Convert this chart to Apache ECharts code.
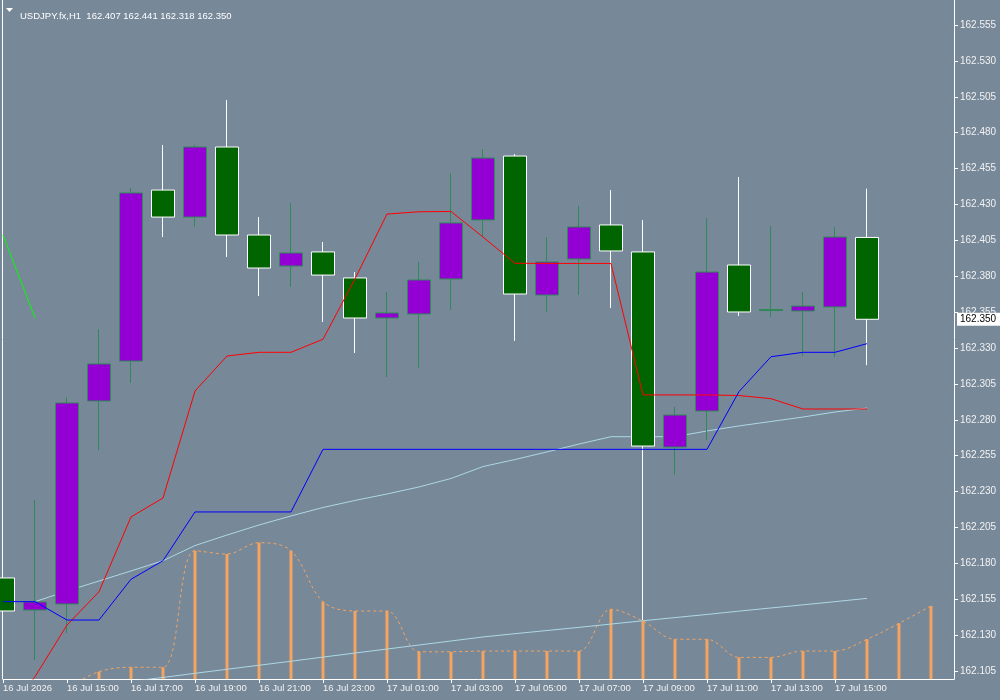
<!DOCTYPE html>
<html lang="en">
<head>
    <meta charset="utf-8" />
    <title>USDJPY.fx,H1</title>
    <script src="https://cdn.jsdelivr.net/npm/echarts@6/dist/echarts.min.js"></script>
    <style>
        html, body { margin: 0; padding: 0; background: #778899; }
        #main { width: 1000px; height: 700px; }
    </style>
</head>
<body>
<div id="main"></div>
<script>
    // H1 bars, index 0 = 16 Jul 13:00
    var opens  = [162.1698, 162.1475, 162.1517, 162.2931, 162.3209, 162.4400, 162.4212, 162.4700, 162.4087, 162.3871,
                  162.3969, 162.3788, 162.3509, 162.3537, 162.3781, 162.4192, 162.4637, 162.3669, 162.3920, 162.4157,
                  162.3969, 162.2610, 162.2861, 162.3878, 162.3561, 162.3558, 162.3586, 162.407];
    var closes = [162.1468, 162.1531, 162.2917, 162.3189, 162.4380, 162.4212, 162.4700, 162.4087, 162.3857, 162.3962,
                  162.3808, 162.3509, 162.3544, 162.3774, 162.4171, 162.4623, 162.3676, 162.3899, 162.4143, 162.3976,
                  162.2617, 162.2833, 162.3829, 162.3551, 162.3568, 162.3592, 162.4073, 162.350];
    var lows   = [162.1245, 162.1127, 162.1315, 162.2589, 162.3056, 162.4073, 162.4143, 162.3934, 162.3662, 162.3725,
                  162.3481, 162.3265, 162.3098, 162.3161, 162.3565, 162.4073, 162.3349, 162.3551, 162.3669, 162.3579,
                  162.1405, 162.2415, 162.2659, 162.3523, 162.3516, 162.3243, 162.3236, 162.318];
    var highs  = [162.1963, 162.2241, 162.2959, 162.3432, 162.4414, 162.4714, 162.4714, 162.5027, 162.4212, 162.4310,
                  162.4038, 162.3829, 162.3690, 162.3899, 162.4519, 162.4686, 162.4651, 162.4073, 162.4289, 162.4400,
                  162.4192, 162.2889, 162.4206, 162.4491, 162.4150, 162.3690, 162.4143, 162.441];

    // indicator lines (from index 0)
    var redLine  = [162.0709, 162.1010, 162.1370, 162.1602, 162.2123, 162.2255, 162.3000, 162.3244, 162.3270, 162.3270,
                    162.3361, 162.3781, 162.4233, 162.4249, 162.4251, 162.4073, 162.3890, 162.3889, 162.3889, 162.3889,
                    162.2973, 162.2973, 162.2973, 162.2969, 162.2947, 162.2875, 162.2875, 162.2875];
    var blueLine = [162.1533, 162.1533, 162.1405, 162.1405, 162.1689, 162.1818, 162.2158, 162.2158, 162.2158, 162.2158,
                    162.2594, 162.2594, 162.2594, 162.2594, 162.2594, 162.2594, 162.2594, 162.2594, 162.2594, 162.2594,
                    162.2594, 162.2594, 162.2594, 162.2996, 162.3239, 162.3270, 162.3270, 162.3330];
    // from index 1
    var maSlow = [162.1533, 162.1607, 162.1677, 162.1747, 162.1818, 162.1924, 162.1997, 162.2067, 162.2130, 162.2189,
                  162.2238, 162.2283, 162.2332, 162.2391, 162.2474, 162.2523, 162.2576, 162.2631, 162.2682, 162.2682,
                  162.2682, 162.2722, 162.2757, 162.2788, 162.2819, 162.2854, 162.2882];
    // from index 4
    var maLong = [162.0978, 162.1005, 162.1034, 162.1062, 162.1090, 162.1118, 162.1147, 162.1175, 162.1203, 162.1231,
                  162.1259, 162.1287, 162.1310, 162.1332, 162.1354, 162.1377, 162.1400, 162.1422, 162.1444, 162.1467,
                  162.1489, 162.1511, 162.1533, 162.1556];
    // from index 0
    var greenLine = [162.4087, 162.3509];
    // histogram, from index 2 (shifted forward past the last bar)
    var histo = [162.0932, 162.1045, 162.1076, 162.1076, 162.1888, 162.1865, 162.1944, 162.1888, 162.1533, 162.1468,
                 162.1468, 162.1184, 162.1184, 162.1189, 162.1189, 162.1189, 162.1189, 162.1480, 162.1398, 162.1271,
                 162.1271, 162.1145, 162.1145, 162.1189, 162.1189, 162.1271, 162.1382, 162.1503];

    var tickPos = [0, 2, 4, 6, 8, 10, 12, 14, 16, 18, 20, 22, 24, 26];
    var tickLabels = ['16 Jul 2026', '16 Jul 15:00', '16 Jul 17:00', '16 Jul 19:00', '16 Jul 21:00', '16 Jul 23:00',
                      '17 Jul 01:00', '17 Jul 03:00', '17 Jul 05:00', '17 Jul 07:00', '17 Jul 09:00', '17 Jul 11:00',
                      '17 Jul 13:00', '17 Jul 15:00'];
    var priceTicks = [162.105, 162.130, 162.155, 162.180, 162.205, 162.230, 162.255, 162.280, 162.305, 162.330,
                      162.355, 162.380, 162.405, 162.430, 162.455, 162.480, 162.505, 162.530, 162.555];
    var lastPrice = 162.350;

    function pts(arr, start) {
        var out = [];
        for (var k = 0; k < arr.length; k++) out.push([start + k, arr[k]]);
        return out;
    }

    var candles = [];
    for (var i = 0; i < opens.length; i++) {
        candles.push([i, opens[i], closes[i], lows[i], highs[i]]);
    }

    var myChart = echarts.init(document.getElementById('main'), null, {renderer: 'canvas'});
    var font = 'Liberation Sans';

    var option = {
        backgroundColor: '#778899',
        animation: false,
        title: {
            text: 'USDJPY.fx,H1  162.407 162.441 162.318 162.350',
            left: 15,
            top: 6,
            textStyle: {color: '#ffffff', fontSize: 9.5, fontWeight: 'normal', fontFamily: font}
        },
        graphic: [
            {type: 'polygon', shape: {points: [[6, 8], [13, 8], [9.5, 12]]}, style: {fill: '#ffffff'}},
            {type: 'line', shape: {x1: 2.5, y1: 0, x2: 2.5, y2: 679}, style: {stroke: '#ffffff', lineWidth: 1}}
        ],
        grid: {left: 3, right: 46, top: 0, bottom: 21},
        xAxis: {
            type: 'value',
            min: 0,
            max: 29.72,
            splitLine: {show: false},
            axisLine: {show: true, onZero: false, lineStyle: {color: '#ffffff', width: 1}},
            axisTick: {show: true, length: 4, customValues: tickPos, lineStyle: {color: '#ffffff'}},
            axisLabel: {
                customValues: tickPos,
                align: 'left',
                margin: 4,
                color: '#f2f2f2',
                fontSize: 9.5,
                fontFamily: font,
                formatter: function (v) { return tickLabels[tickPos.indexOf(Math.round(v))]; }
            }
        },
        yAxis: {
            type: 'value',
            position: 'right',
            min: 162.09943,
            max: 162.57240,
            scale: true,
            splitLine: {show: false},
            axisLine: {show: true, onZero: false, lineStyle: {color: '#ffffff', width: 1}},
            axisTick: {show: true, length: 4, customValues: priceTicks, lineStyle: {color: '#ffffff'}},
            axisLabel: {
                customValues: priceTicks,
                margin: 6,
                color: '#f2f2f2',
                fontSize: 10,
                fontFamily: font,
                formatter: function (v) { return v.toFixed(3); }
            }
        },
        series: [
            {
                name: 'histo',
                type: 'bar',
                data: pts(histo, 2).slice(1),
                barWidth: 3,
                clip: true,
                itemStyle: {color: '#f4a460'},
                z: 1
            },
            {
                name: 'histoLine',
                type: 'line',
                data: pts(histo, 2),
                smooth: 0.35,
                symbol: 'none',
                lineStyle: {color: '#f4a460', width: 1, type: [3, 3]},
                z: 1
            },
            {
                name: 'maLong',
                type: 'line',
                data: pts(maLong, 4),
                symbol: 'none',
                lineStyle: {color: '#add8e6', width: 1},
                z: 2
            },
            {
                name: 'maSlow',
                type: 'line',
                data: pts(maSlow, 1),
                symbol: 'none',
                lineStyle: {color: '#add8e6', width: 1},
                z: 2
            },
            {
                name: 'USDJPY.fx',
                type: 'candlestick',
                data: candles,
                encode: {x: 0, y: [1, 2, 3, 4]},
                barWidth: 23,
                clip: true,
                itemStyle: {
                    color: '#9400d3',
                    borderColor: '#2e8b57',
                    color0: '#006400',
                    borderColor0: '#ffffff',
                    borderWidth: 1
                },
                z: 3
            },
            {
                name: 'red',
                type: 'line',
                data: pts(redLine, 0),
                symbol: 'none',
                lineStyle: {color: '#ff0000', width: 1},
                z: 4
            },
            {
                name: 'blue',
                type: 'line',
                data: pts(blueLine, 0),
                symbol: 'none',
                lineStyle: {color: '#0000ff', width: 1},
                z: 4
            },
            {
                name: 'green',
                type: 'line',
                data: pts(greenLine, 0),
                symbol: 'none',
                lineStyle: {color: '#00ff00', width: 1},
                markLine: {
                    silent: true,
                    symbol: 'none',
                    clip: false,
                    lineStyle: {color: 'rgba(0,0,0,0)', width: 0},
                    label: {
                        show: true,
                        position: 'end',
                        distance: 3,
                        formatter: lastPrice.toFixed(3),
                        backgroundColor: '#ffffff',
                        color: '#000000',
                        padding: [2, 4, 1, 3],
                        fontSize: 10,
                        fontFamily: font
                    },
                    data: [{yAxis: lastPrice}]
                },
                z: 5
            }
        ]
    };

    myChart.setOption(option);
</script>
</body>
</html>
